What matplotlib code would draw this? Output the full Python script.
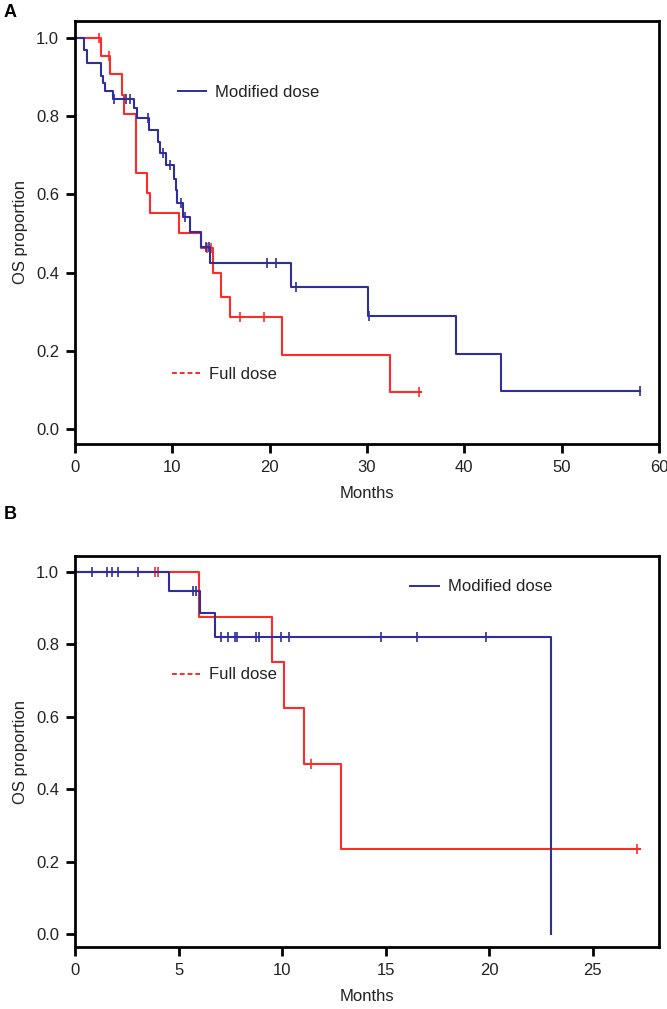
import matplotlib
matplotlib.use("Agg")
import numpy as np
import matplotlib.pyplot as plt
from matplotlib.lines import Line2D

plt.rcParams['font.family'] = ['Liberation Sans', 'DejaVu Sans']

# panel A: modified dose (times in months, OS proportion after each event)
a_mod_t = [0, 0.93, 1.27, 2.66, 2.85, 3.05, 3.86, 6.1, 6.35, 7.6, 8.5, 8.7, 9.3,
           10.2, 10.35, 10.5, 11.1, 11.86, 12.9, 13.9, 22.2, 30.06, 39.1, 43.8, 58.05]
a_mod_s = [1.0, 0.968, 0.935, 0.903, 0.884, 0.865, 0.843, 0.82, 0.795, 0.765, 0.735, 0.705, 0.675,
           0.64, 0.61, 0.577, 0.543, 0.505, 0.466, 0.425, 0.362, 0.29, 0.193, 0.097, 0.097]
a_mod_cens = [4.0, 5.2, 5.7, 7.5, 9.0, 9.8, 10.9, 11.3, 13.5, 13.8, 19.7, 20.7, 22.75, 30.2, 58.05]

# panel A: full dose
a_full_t = [0, 2.7, 3.6, 4.8, 5.05, 6.25, 7.4, 7.7, 10.7, 12.9, 14.2, 15.0, 15.9, 21.3, 32.4, 35.5]
a_full_s = [1.0, 0.954, 0.907, 0.855, 0.805, 0.654, 0.603, 0.552, 0.502, 0.462, 0.398, 0.338,
            0.286, 0.189, 0.094, 0.094]
a_full_cens = [2.5, 3.5, 13.6, 14.0, 17.0, 19.4, 35.3]

# panel B: modified dose
b_mod_t = [0, 4.55, 6.05, 6.75, 23.0]
b_mod_s = [1.0, 0.947, 0.886, 0.82, 0.0]
b_mod_cens = [0.81, 1.54, 1.78, 2.07, 3.04, 5.69, 5.85, 7.05, 7.4, 7.75, 7.8, 8.72, 8.89,
              9.96, 10.32, 14.8, 16.5, 19.85]

# panel B: full dose
b_full_t = [0, 6.0, 9.5, 10.1, 11.05, 12.85, 27.3]
b_full_s = [1.0, 0.875, 0.75, 0.625, 0.469, 0.234, 0.234]
b_full_cens = [3.88, 4.01, 11.4, 27.15]

BLUE = '#2e2e9c'
RED = '#ff2a2a'
TXT = '#222222'


def km(ax, t, s, cens, color):
    ax.step(t, s, where='post', color=color, lw=1.5)
    idx = np.searchsorted(t, cens, side='right') - 1
    ax.plot(cens, np.array(s)[idx], ls='none', marker='|', ms=7, mew=1.2, color=color)


def style(ax, xticks, xlim, ylim):
    ax.set_xlim(*xlim)
    ax.set_ylim(*ylim)
    ax.set_xticks(xticks)
    ax.set_yticks([0.0, 0.2, 0.4, 0.6, 0.8, 1.0])
    ax.set_yticklabels(['0.0', '0.2', '0.4', '0.6', '0.8', '1.0'])
    for sp in ax.spines.values():
        sp.set_linewidth(2)
    ax.tick_params(direction='out', length=6.5, width=2, labelsize=12, labelcolor=TXT, pad=5)
    ax.set_xlabel('Months', fontsize=12, color=TXT, labelpad=8)
    ax.set_ylabel('OS proportion', fontsize=12, color=TXT, labelpad=6)


def labels(ax, mod_xy, full_xy):
    h1 = Line2D([], [], color=BLUE, lw=1.4)
    h2 = Line2D([], [], color=RED, lw=1.4, ls=(0, (2.5, 1.5)))
    kw = dict(frameon=False, loc='center left', borderpad=0, borderaxespad=0,
              handlelength=1.7, handletextpad=0.55, fontsize=12, labelcolor=TXT)
    l1 = ax.legend([h1], ['Modified dose'], bbox_to_anchor=mod_xy, **kw)
    ax.add_artist(l1)
    ax.legend([h2], ['Full dose'], bbox_to_anchor=full_xy, **kw)


fig = plt.figure(figsize=(6.67, 10.09), dpi=100)
W, H = 667, 1009
ax_a = fig.add_axes([75 / W, 1 - 444 / H, 584 / W, 423 / H])
ax_b = fig.add_axes([75 / W, 1 - 947 / H, 584 / W, 391 / H])

km(ax_a, a_full_t, a_full_s, a_full_cens, RED)
km(ax_a, a_mod_t, a_mod_s, a_mod_cens, BLUE)
style(ax_a, [0, 10, 20, 30, 40, 50, 60], (0, 60), (-0.038, 1.043))
labels(ax_a, (0.176, 0.832), (0.166, 0.165))

km(ax_b, b_full_t, b_full_s, b_full_cens, RED)
km(ax_b, b_mod_t, b_mod_s, b_mod_cens, BLUE)
style(ax_b, [0, 5, 10, 15, 20, 25], (0, 28.2), (-0.036, 1.044))
labels(ax_b, (0.574, 0.921), (0.166, 0.696))

fig.text(4 / W, 1 - 4 / H, 'A', fontsize=13, weight='bold', va='top', ha='left')
fig.text(4 / W, 1 - 506 / H, 'B', fontsize=13, weight='bold', va='top', ha='left')

fig.savefig('out.png', dpi=100)
